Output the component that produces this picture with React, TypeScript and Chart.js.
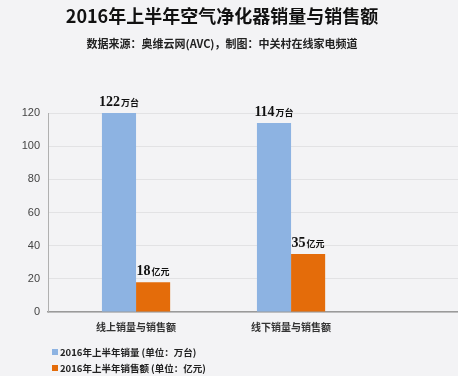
import React, { useEffect, useRef } from "react";
import { Chart, registerables } from "chart.js";

Chart.register(...registerables);

const titleText = "2016年上半年空气净化器销量与销售额";
const subtitleText = "数据来源：奥维云网(AVC)，制图：中关村在线家电频道";
const categories = ["线上销量与销售额", "线下销量与销售额"];
const seriesNames = ["2016年上半年销量 (单位：万台)", "2016年上半年销售额 (单位：亿元)"];
const salesVolume = [122, 114];
const salesRevenue = [18, 35];
const seriesUnits = ["万台", "亿元"];
const seriesColors = ["#8db3e2", "#e46c0a"];

const CJK = '"Noto Sans CJK SC", "Noto Sans", sans-serif';

const overlay = {
  id: "overlay",
  beforeDraw(chart: any) {
    const { ctx, width, height } = chart;
    ctx.save();
    ctx.fillStyle = "#f3f3f5";
    ctx.fillRect(0, 0, width, height);
    ctx.restore();
  },
  afterDraw(chart: any) {
    const { ctx, chartArea } = chart;
    ctx.save();
    // titles
    ctx.textAlign = "center";
    ctx.textBaseline = "middle";
    ctx.fillStyle = "#111";
    ctx.font = `bold 18px ${CJK}`;
    ctx.fillText(titleText, 222, 16);
    ctx.fillStyle = "#222";
    ctx.font = `bold 11px ${CJK}`;
    ctx.fillText(subtitleText, 222, 44);

    // data labels
    chart.data.datasets.forEach((ds: any, di: number) => {
      const meta = chart.getDatasetMeta(di);
      meta.data.forEach((bar: any, i: number) => {
        const v = ds.data[i].y;
        const top = Math.max(bar.y, chartArea.top);
        const num = String(v);
        const unit = seriesUnits[di];
        ctx.font = 'bold 14px "Liberation Serif", serif';
        const wn = ctx.measureText(num).width;
        ctx.font = `bold 9px ${CJK}`;
        const wu = ctx.measureText(unit).width;
        const total = wn + 1 + wu;
        const x0 = bar.x - total / 2;
        const base = top - 7;
        ctx.textAlign = "left";
        ctx.textBaseline = "alphabetic";
        ctx.fillStyle = "#111";
        ctx.font = 'bold 14px "Liberation Serif", serif';
        ctx.fillText(num, x0, base);
        ctx.font = `bold 9px ${CJK}`;
        ctx.fillText(unit, x0 + wn + 1, base);
      });
    });

    // legend
    ctx.textAlign = "left";
    ctx.textBaseline = "middle";
    seriesNames.forEach((name, i) => {
      const cy = 352 + i * 16;
      ctx.fillStyle = seriesColors[i];
      ctx.fillRect(52, cy - 3, 6, 6);
      ctx.fillStyle = "#222";
      ctx.font = `bold 9.5px ${CJK}`;
      ctx.fillText(name, 60, cy);
    });
    ctx.restore();
  },
};

export default function App() {
  const ref = useRef<HTMLCanvasElement>(null);
  useEffect(() => {
    if (!ref.current) return;
    const chart = new Chart(ref.current, {
      type: "bar",
      data: {
        datasets: [
          {
            label: seriesNames[0],
            data: salesVolume.map((v, i) => ({ x: i + 1, y: v })),
            backgroundColor: seriesColors[0],
          },
          {
            label: seriesNames[1],
            data: salesRevenue.map((v, i) => ({ x: i + 1, y: v })),
            backgroundColor: seriesColors[1],
          },
        ],
      },
      options: {
        responsive: false,
        animation: false,
        layout: { padding: { top: 113, left: 0, right: 0, bottom: 0 } },
        datasets: { bar: { categoryPercentage: 0.44, barPercentage: 1 } },
        plugins: { legend: { display: false }, tooltip: { enabled: false }, title: { display: false } },
        scales: {
          x: {
            type: "linear",
            offset: false,
            min: 0.432,
            max: 3.077,
            afterBuildTicks: (s: any) => {
              s.ticks = categories.map((_, i) => ({ value: i + 1 }));
            },
            afterFit: (s: any) => {
              s.height = 64;
            },
            grid: { display: false, drawTicks: false },
            border: { display: true, color: "#9a9a9a", width: 1.5 },
            ticks: {
              autoSkip: false,
              maxRotation: 0,
              padding: 9,
              color: "#333",
              font: { family: CJK, size: 10, weight: "bold" },
              callback: (v: any) => categories[Math.round(v) - 1] ?? "",
            },
          },
          y: {
            min: 0,
            max: 120,
            afterFit: (s: any) => {
              s.width = 48;
            },
            grid: { color: "#e2e2e4", drawTicks: false },
            border: { display: true, color: "#b0b0b0" },
            ticks: {
              stepSize: 20,
              padding: 8,
              color: "#444",
              font: { family: '"Liberation Sans", Arial, sans-serif', size: 11 },
            },
          },
        },
      },
      plugins: [overlay],
    } as any);
    return () => chart.destroy();
  }, []);
  return (
    <div style={{ position: "fixed", left: 0, top: 0, width: 458, height: 376, background: "#f3f3f5" }}>
      <canvas ref={ref} width={458} height={376} style={{ display: "block" }} />
    </div>
  );
}
